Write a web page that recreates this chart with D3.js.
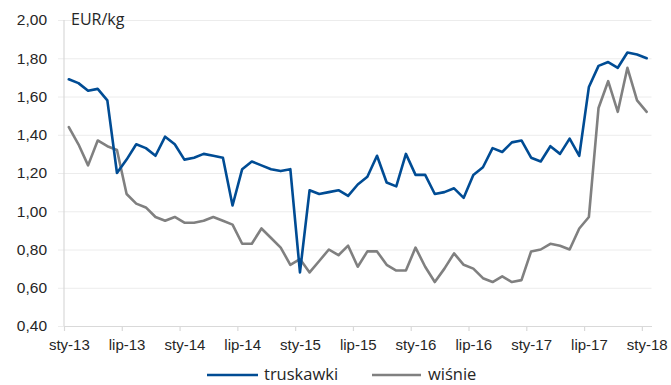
<!DOCTYPE html>
<html>
<head>
<meta charset="utf-8">
<script src="https://cdn.jsdelivr.net/npm/d3@7/dist/d3.min.js"></script>
<style>
  html, body { margin: 0; padding: 0; background: #fff; }
  svg { display: block; font-family: "Open Sans", "DejaVu Sans", sans-serif; }
</style>
</head>
<body>
<svg id="chart" width="671" height="385"></svg>
<script>
// Monthly prices, Jan 2013 – Jan 2018 (EUR/kg)
const years = ["13", "14", "15", "16", "17", "18"];
const monthNames = ["sty", "lut", "mar", "kwi", "maj", "cze", "lip", "sie", "wrz", "paź", "lis", "gru"];
const months = years.flatMap(y => monthNames.map(m => `${m}-${y}`)).slice(0, 61);

const tickLabels = ["sty-13", "lip-13", "sty-14", "lip-14", "sty-15", "lip-15",
                    "sty-16", "lip-16", "sty-17", "lip-17", "sty-18"];

const yTicks = [0.4, 0.6, 0.8, 1.0, 1.2, 1.4, 1.6, 1.8, 2.0];

const truskawki = [
  1.69, 1.67, 1.63, 1.64, 1.58, 1.20, 1.27, 1.35, 1.33, 1.29, 1.39, 1.35,
  1.27, 1.28, 1.30, 1.29, 1.28, 1.03, 1.22, 1.26, 1.24, 1.22, 1.21, 1.22,
  0.68, 1.11, 1.09, 1.10, 1.11, 1.08, 1.14, 1.18, 1.29, 1.15, 1.13, 1.30,
  1.19, 1.19, 1.09, 1.10, 1.12, 1.07, 1.19, 1.23, 1.33, 1.31, 1.36, 1.37,
  1.28, 1.26, 1.34, 1.30, 1.38, 1.29, 1.65, 1.76, 1.78, 1.75, 1.83, 1.82,
  1.80
];

const wisnie = [
  1.44, 1.35, 1.24, 1.37, 1.34, 1.32, 1.09, 1.04, 1.02, 0.97, 0.95, 0.97,
  0.94, 0.94, 0.95, 0.97, 0.95, 0.93, 0.83, 0.83, 0.91, 0.86, 0.81, 0.72,
  0.75, 0.68, 0.74, 0.80, 0.77, 0.82, 0.71, 0.79, 0.79, 0.72, 0.69, 0.69,
  0.81, 0.71, 0.63, 0.70, 0.78, 0.72, 0.70, 0.65, 0.63, 0.66, 0.63, 0.64,
  0.79, 0.80, 0.83, 0.82, 0.80, 0.91, 0.97, 1.54, 1.68, 1.52, 1.75, 1.58,
  1.52
];

const series = [
  { name: "truskawki", values: truskawki, color: "#004C94" },
  { name: "wiśnie", values: wisnie, color: "#808080" }
];

const svg = d3.select("#chart");
const plot = { left: 64, right: 651.5, top: 20, bottom: 326 };

// Category axis: each month occupies one band; ticks sit on band edges
const x = d3.scaleLinear().domain([0, months.length]).range([plot.left, plot.right]);
const bw = x(1) - x(0);
const xc = i => x(i + 0.5);

const y = d3.scaleLinear().domain([0.4, 2.0]).range([plot.bottom, plot.top]);
const fmt = v => d3.format(".2f")(v).replace(".", ",");

// Horizontal gridlines with small outer ticks
const yAxis = d3.axisLeft(y)
  .tickValues(yTicks)
  .tickSize(-(plot.right - plot.left))
  .tickSizeOuter(0)
  .tickFormat(fmt)
  .tickPadding(17);

const gy = svg.append("g").attr("transform", `translate(${plot.left},0)`).call(yAxis);
gy.select(".domain").remove();
gy.selectAll(".tick line")
  .attr("x1", -6)
  .attr("stroke", "#ececec")
  .attr("stroke-width", 1);
gy.selectAll(".tick text")
  .attr("fill", "#262626")
  .style("font-size", "15.5px");

// Vertical axis line
svg.append("line")
  .attr("x1", plot.left).attr("x2", plot.left)
  .attr("y1", plot.top).attr("y2", plot.bottom)
  .attr("stroke", "#d9d9d9").attr("stroke-width", 1.2);

// Bottom axis
const tickIdx = tickLabels.map((_, k) => k * 6);
const xAxis = d3.axisBottom(x)
  .tickValues(tickIdx)
  .tickSize(5)
  .tickSizeOuter(0)
  .tickPadding(8)
  .tickFormat((d, k) => tickLabels[k]);

const gx = svg.append("g").attr("transform", `translate(0,${plot.bottom})`).call(xAxis);
gx.select(".domain").attr("stroke", "#d9d9d9").attr("stroke-width", 1.2);
gx.selectAll(".tick line").attr("stroke", "#d9d9d9").attr("stroke-width", 1.2);
gx.selectAll(".tick text")
  .attr("x", bw / 2)
  .attr("fill", "#262626")
  .style("font-size", "15px");

// Unit label
svg.append("text")
  .attr("x", 71).attr("y", 25)
  .attr("fill", "#262626")
  .style("font-size", "16px")
  .text("EUR/kg");

// Lines (grey first so blue stays on top)
const line = d3.line()
  .x((d, i) => xc(i))
  .y(d => y(d));

[series[1], series[0]].forEach(s => {
  svg.append("path")
    .datum(s.values)
    .attr("fill", "none")
    .attr("stroke", s.color)
    .attr("stroke-width", 2.6)
    .attr("stroke-linejoin", "round")
    .attr("stroke-linecap", "round")
    .attr("d", line);
});

// Legend
const legend = [
  { s: series[0], x0: 207, x1: 258, tx: 264 },
  { s: series[1], x0: 372, x1: 421, tx: 428 }
];
const ly = 375;
legend.forEach(l => {
  svg.append("line")
    .attr("x1", l.x0).attr("x2", l.x1)
    .attr("y1", ly).attr("y2", ly)
    .attr("stroke", l.s.color)
    .attr("stroke-width", 2.6);
  svg.append("text")
    .attr("x", l.tx).attr("y", ly + 5)
    .attr("fill", "#262626")
    .style("font-size", "16.5px")
    .text(l.s.name);
});
</script>
</body>
</html>
